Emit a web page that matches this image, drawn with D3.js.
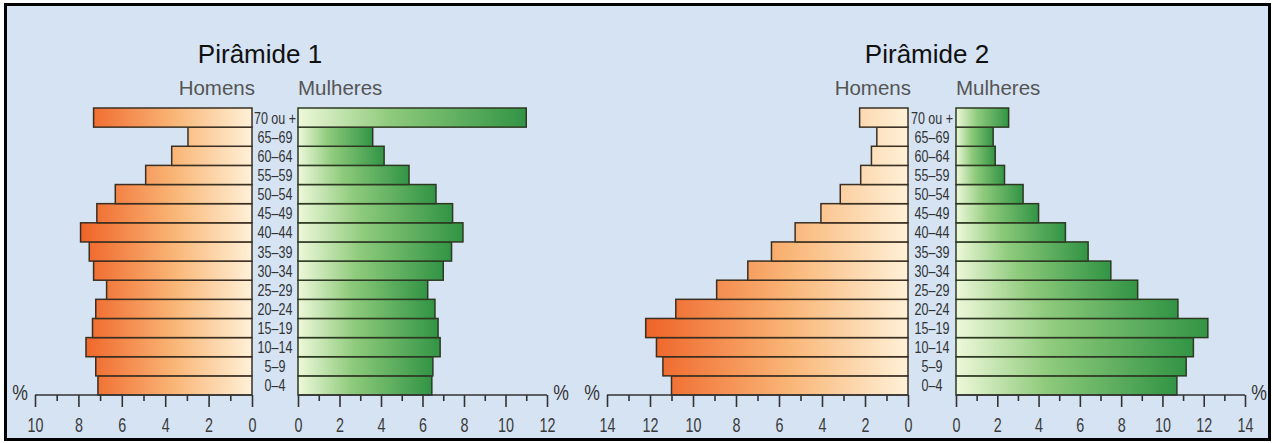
<!DOCTYPE html>
<html>
<head>
<meta charset="utf-8">
<script src="https://cdn.jsdelivr.net/npm/d3@7/dist/d3.min.js"></script>
<style>
  html, body { margin: 0; padding: 0; background: #ffffff; }
  svg { display: block; }
</style>
</head>
<body>
<svg id="chart" width="1273" height="443"></svg>
<script>
// ---------- data ----------
const ages = ["0–4","5–9","10–14","15–19","20–24","25–29","30–34","35–39","40–44","45–49","50–54","55–59","60–64","65–69","70 ou +"];
const p1Men   = [7.1, 7.2, 7.65, 7.35, 7.2, 6.7, 7.3, 7.5, 7.9, 7.15, 6.3, 4.9, 3.7, 2.95, 7.3];
const p1Women = [6.45, 6.5, 6.85, 6.75, 6.6, 6.25, 7.0, 7.4, 7.95, 7.45, 6.65, 5.35, 4.15, 3.6, 11.0];
const p2Men   = [11.0, 11.4, 11.7, 12.2, 10.8, 8.9, 7.45, 6.35, 5.25, 4.05, 3.15, 2.2, 1.7, 1.45, 2.25];
const p2Women = [10.7, 11.15, 11.5, 12.2, 10.75, 8.8, 7.5, 6.4, 5.3, 4.0, 3.25, 2.35, 1.9, 1.8, 2.55];
const p1MenTicks = [0,1,2,3,4,5,6,7,8,9,10];
const p1WomenTicks = [0,1,2,3,4,5,6,7,8,9,10,11,12];
const p2Ticks = [0,1,2,3,4,5,6,7,8,9,10,11,12,13,14];
const titles = ["Pirâmide 1", "Pirâmide 2"];
const sexLabels = ["Homens", "Mulheres"];

// ---------- setup ----------
const FONT = "Liberation Sans, Arial, sans-serif";
const svg = d3.select("#chart");
const W = 1273, H = 443;
svg.append("rect").attr("x", 0).attr("y", 0).attr("width", W).attr("height", H).attr("fill", "#ffffff");
svg.append("rect").attr("x", 5.5).attr("y", 4.5).attr("width", 1264).attr("height", 435)
  .attr("fill", "#d5e3f3").attr("stroke", "#000").attr("stroke-width", 3);

const defs = svg.append("defs");
const wg = defs.append("linearGradient").attr("id", "womenGrad")
  .attr("x1", "0%").attr("x2", "100%").attr("y1", "0%").attr("y2", "0%");
wg.append("stop").attr("offset", "0%").attr("stop-color", "#eef8da");
wg.append("stop").attr("offset", "40%").attr("stop-color", "#8fcb7c");
wg.append("stop").attr("offset", "100%").attr("stop-color", "#329445");

const y = d3.scaleBand().domain(ages.slice().reverse()).range([108, 395]).padding(0);

const pyramids = [
  { title: titles[0], men: p1Men, women: p1Women,
    xm: d3.scaleLinear().domain([0, 10]).range([252, 35]),
    xw: d3.scaleLinear().domain([0, 12]).range([298, 547]),
    mTicks: p1MenTicks, wTicks: p1WomenTicks, titleX: 260, id: "m1" },
  { title: titles[1], men: p2Men, women: p2Women,
    xm: d3.scaleLinear().domain([0, 14]).range([908, 607]),
    xw: d3.scaleLinear().domain([0, 14]).range([956, 1245]),
    mTicks: p2Ticks, wTicks: p2Ticks, titleX: 927, id: "m2" }
];

// condensed text helper: Liberation Sans squeezed horizontally
function narrowText(sel, x, yy, sx) {
  return sel.attr("x", 0).attr("y", 0)
    .attr("transform", (d, i) => `translate(${typeof x === "function" ? x(d, i) : x},${typeof yy === "function" ? yy(d, i) : yy}) scale(${sx},1)`)
    .attr("font-family", FONT);
}

pyramids.forEach(p => {
  const g = svg.append("g");
  const mMax = d3.max(p.men);
  const mg = defs.append("linearGradient").attr("id", p.id)
    .attr("gradientUnits", "userSpaceOnUse")
    .attr("x1", p.xm(0)).attr("x2", p.xm(mMax)).attr("y1", 0).attr("y2", 0);
  mg.append("stop").attr("offset", "0%").attr("stop-color", "#fff1d8");
  mg.append("stop").attr("offset", "45%").attr("stop-color", "#f9b677");
  mg.append("stop").attr("offset", "100%").attr("stop-color", "#ef6327");

  // titles
  g.append("text").attr("x", p.titleX).attr("y", 63).attr("text-anchor", "middle")
    .attr("font-family", FONT).attr("font-size", 26)
    .attr("fill", "#111").text(p.title);
  g.append("text").attr("x", p.xm(0) + 3).attr("y", 95).attr("text-anchor", "end")
    .attr("font-family", FONT).attr("font-size", 20.5)
    .attr("fill", "#555").text(sexLabels[0]);
  g.append("text").attr("x", p.xw(0)).attr("y", 95).attr("text-anchor", "start")
    .attr("font-family", FONT).attr("font-size", 20.5)
    .attr("fill", "#555").text(sexLabels[1]);

  // men bars
  g.selectAll(".men").data(ages).join("rect")
    .attr("x", (d, i) => p.xm(p.men[i]))
    .attr("y", d => y(d))
    .attr("width", (d, i) => p.xm(0) - p.xm(p.men[i]))
    .attr("height", y.bandwidth())
    .attr("fill", `url(#${p.id})`)
    .attr("stroke", "#3b2f22").attr("stroke-width", 1.5);

  // women bars
  g.selectAll(".women").data(ages).join("rect")
    .attr("x", p.xw(0))
    .attr("y", d => y(d))
    .attr("width", (d, i) => p.xw(p.women[i]) - p.xw(0))
    .attr("height", y.bandwidth())
    .attr("fill", "url(#womenGrad)")
    .attr("stroke", "#2d3a22").attr("stroke-width", 1.5);

  // age labels
  const cx = (p.xm(0) + p.xw(0)) / 2;
  narrowText(g.selectAll(".age").data(ages).join("text"), cx, d => y(d) + y.bandwidth() / 2 + 6, 0.76)
    .attr("text-anchor", "middle").attr("font-size", 16.5).attr("fill", "#333")
    .text(d => d);

  // axes
  const drawAxis = (scale, ticks) => {
    const ax = d3.axisBottom(scale).tickValues(ticks).tickSize(6).tickFormat(d => d % 2 === 0 ? d : "");
    const a = g.append("g").attr("transform", "translate(0,395)").call(ax);
    a.select(".domain").attr("stroke", "#333").attr("stroke-width", 1.6).attr("d", `M${scale.range()[0]},0H${scale.range()[1]}`);
    a.selectAll(".tick line").attr("stroke", "#333").attr("stroke-width", 1.6)
      .attr("y2", d => d % 2 === 0 ? 12 : 6);
    a.selectAll(".tick text").attr("x", 0).attr("y", 0).attr("dy", null)
      .attr("transform", "translate(0,37) scale(0.7,1)")
      .attr("font-family", FONT).attr("font-size", 20.5).attr("fill", "#3a3a3a");
  };
  drawAxis(p.xm, p.mTicks);
  drawAxis(p.xw, p.wTicks);

  // % labels
  narrowText(g.append("text"), p.xm.range()[1] - 15, 400, 0.8)
    .attr("text-anchor", "middle").attr("font-size", 22).attr("fill", "#333").text("%");
  narrowText(g.append("text"), p.xw.range()[1] + 14, 400, 0.8)
    .attr("text-anchor", "middle").attr("font-size", 22).attr("fill", "#333").text("%");
});
</script>
</body>
</html>
